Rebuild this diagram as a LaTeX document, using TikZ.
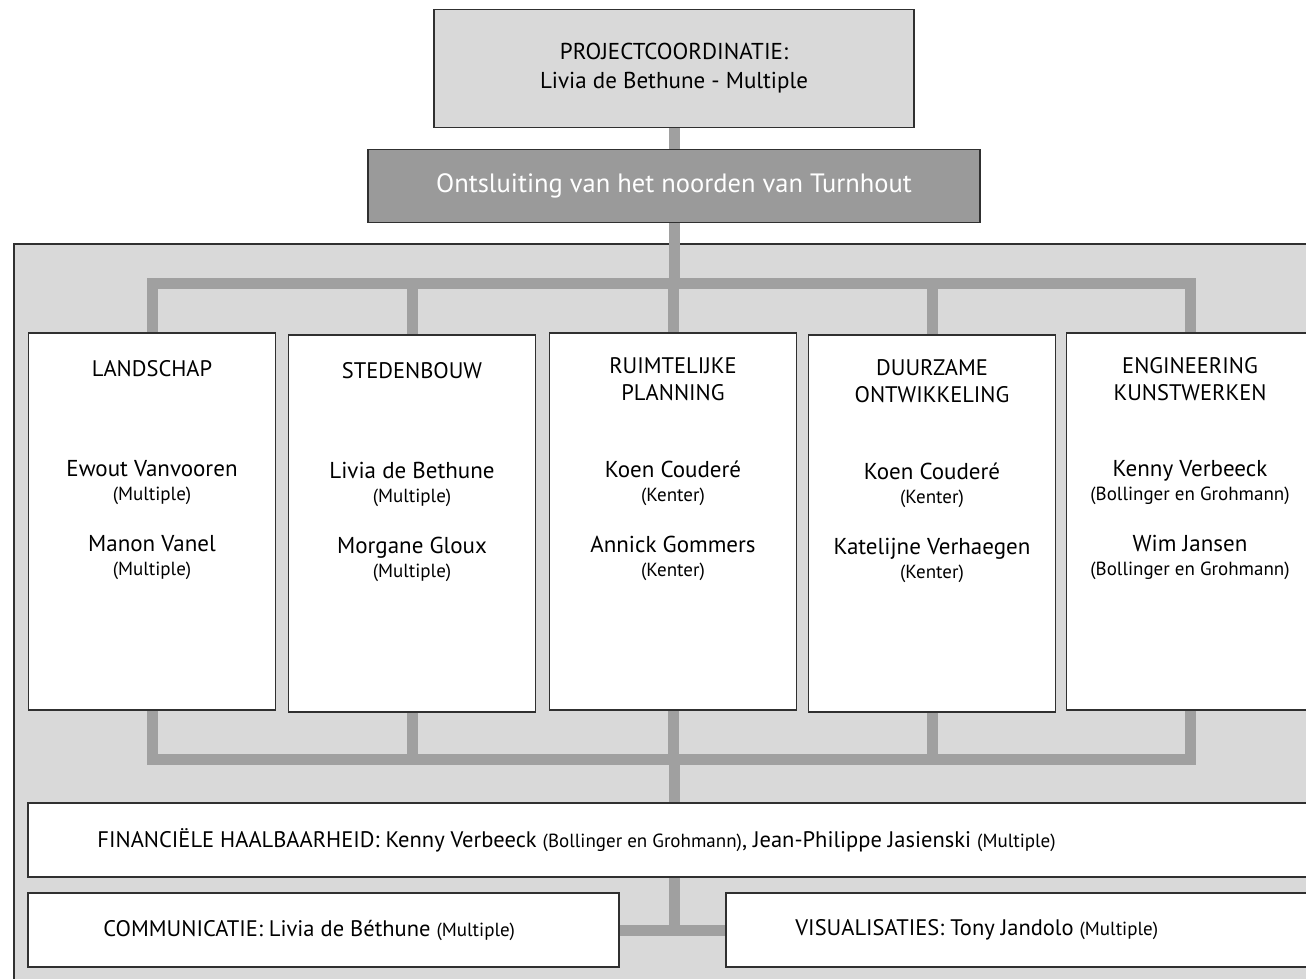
\documentclass[tikz,border=0pt]{standalone}
\usepackage{fontspec}
\setmainfont{PT Sans}
\usetikzlibrary{positioning}
\definecolor{paneel}{HTML}{D9D9D9}
\definecolor{balk}{HTML}{A0A0A0}
\definecolor{donker}{HTML}{9A9A9A}
\definecolor{rand}{HTML}{303030}
\newcommand\firma[1]{{\fontsize{19}{24}\selectfont(#1)}}

\begin{document}
\begin{tikzpicture}[x=1pt,y=-1pt,
    vak/.style={draw=rand,line width=1.5pt,fill=white,inner sep=0pt},
    kolom/.style={vak,minimum width=247pt,minimum height=377pt},
    rij/.style={vak,minimum height=74pt},
    kop/.style={inner sep=0pt,align=center,font=\fontsize{22.5}{27}\selectfont,execute at begin node=\strut},
    namen/.style={inner sep=0pt,align=center,font=\fontsize{23}{24}\selectfont,execute at begin node=\strut},
    regel/.style={inner sep=0pt,font=\fontsize{22.5}{24}\selectfont},
    lijn/.style={draw=balk,line width=11pt}]
  \useasboundingbox (0,0) rectangle (1306,978);
  \draw[rand,line width=2pt,fill=paneel] (14,244) rectangle (1330,1000);
  \node[vak,fill=paneel,minimum width=480pt,minimum height=118pt,align=center,font=\fontsize{23}{29}\selectfont] (coord) at (674,68.5) {PROJECTCOORDINATIE:\\Livia de Bethune - Multiple};
  \node[vak,fill=donker,text=white,minimum width=612pt,minimum height=73pt,font=\fontsize{26.5}{30}\selectfont] (titel) at (674,186) {Ontsluiting van het noorden van Turnhout};
  \coordinate (boven) at (674,283);
  \coordinate (onder) at (674,759.5);
  \coordinate (midden) at (674,930);

  \node[kolom] (landschap) at (152,521.5) {};
  \node[kolom] (stedenbouw) at (412,523.5) {};
  \node[kolom] (ruimte) at (673,521.5) {};
  \node[kolom] (duurzaam) at (932,523.5) {};
  \node[kolom] (engineering) at (1190,521.5) {};

  \node[kop,below=25pt of landschap.north] (landschap-kop) {LANDSCHAP};
  \node[kop,below=25pt of stedenbouw.north] (stedenbouw-kop) {STEDENBOUW};
  \node[kop,below=25pt of ruimte.north] (ruimte-kop) {RUIMTELIJKE\\PLANNING};
  \node[kop,below=25pt of duurzaam.north] (duurzaam-kop) {DUURZAME\\ONTWIKKELING};
  \node[kop,below=25pt of engineering.north] (engineering-kop) {ENGINEERING\\KUNSTWERKEN};

  \node[namen,below=128pt of landschap.north] (landschap-namen) {Ewout Vanvooren\\\firma{Multiple}\\[27pt]Manon Vanel\\\firma{Multiple}};
  \node[namen,below=128pt of stedenbouw.north] (stedenbouw-namen) {Livia de Bethune\\\firma{Multiple}\\[27pt]Morgane Gloux\\\firma{Multiple}};
  \node[namen,below=128pt of ruimte.north] (ruimte-namen) {Koen Couderé\\\firma{Kenter}\\[27pt]Annick Gommers\\\firma{Kenter}};
  \node[namen,below=128pt of duurzaam.north] (duurzaam-namen) {Koen Couderé\\\firma{Kenter}\\[27pt]Katelijne Verhaegen\\\firma{Kenter}};
  \node[namen,below=128pt of engineering.north] (engineering-namen) {Kenny Verbeeck\\\firma{Bollinger en Grohmann}\\[27pt]Wim Jansen\\\firma{Bollinger en Grohmann}};

  \node[rij,minimum width=1302pt] (fin) at (679,840) {};
  \node[rij,minimum width=591pt] (commun) at (323.5,930) {};
  \node[rij,minimum width=604pt] (visual) at (1028,930) {};
  \node[regel,right=70pt of fin.west] (fin-tekst) {FINANCIËLE HAALBAARHEID: Kenny Verbeeck \firma{Bollinger en Grohmann}, Jean-Philippe Jasienski \firma{Multiple}};
  \node[regel,right=76pt of commun.west] (commun-tekst) {COMMUNICATIE: Livia de Béthune \firma{Multiple}};
  \node[regel,right=70pt of visual.west] (visual-tekst) {VISUALISATIES: Tony Jandolo \firma{Multiple}};

  \draw[lijn] (coord) -- (titel);
  \draw[lijn] (titel) -- (boven);
  \draw[lijn] (boven) -| (landschap);
  \draw[lijn] (boven) -| (stedenbouw);
  \draw[lijn] (boven) -| (ruimte);
  \draw[lijn] (boven) -| (duurzaam);
  \draw[lijn] (boven) -| (engineering);
  \draw[lijn] (landschap) |- (onder);
  \draw[lijn] (stedenbouw) |- (onder);
  \draw[lijn] (ruimte) |- (onder);
  \draw[lijn] (duurzaam) |- (onder);
  \draw[lijn] (engineering) |- (onder);
  \draw[lijn] (onder) -- (onder |- fin.north);
  \draw[lijn] (midden |- fin.south) -- (midden);
  \draw[lijn] (commun) -- (visual);
\end{tikzpicture}
\end{document}
